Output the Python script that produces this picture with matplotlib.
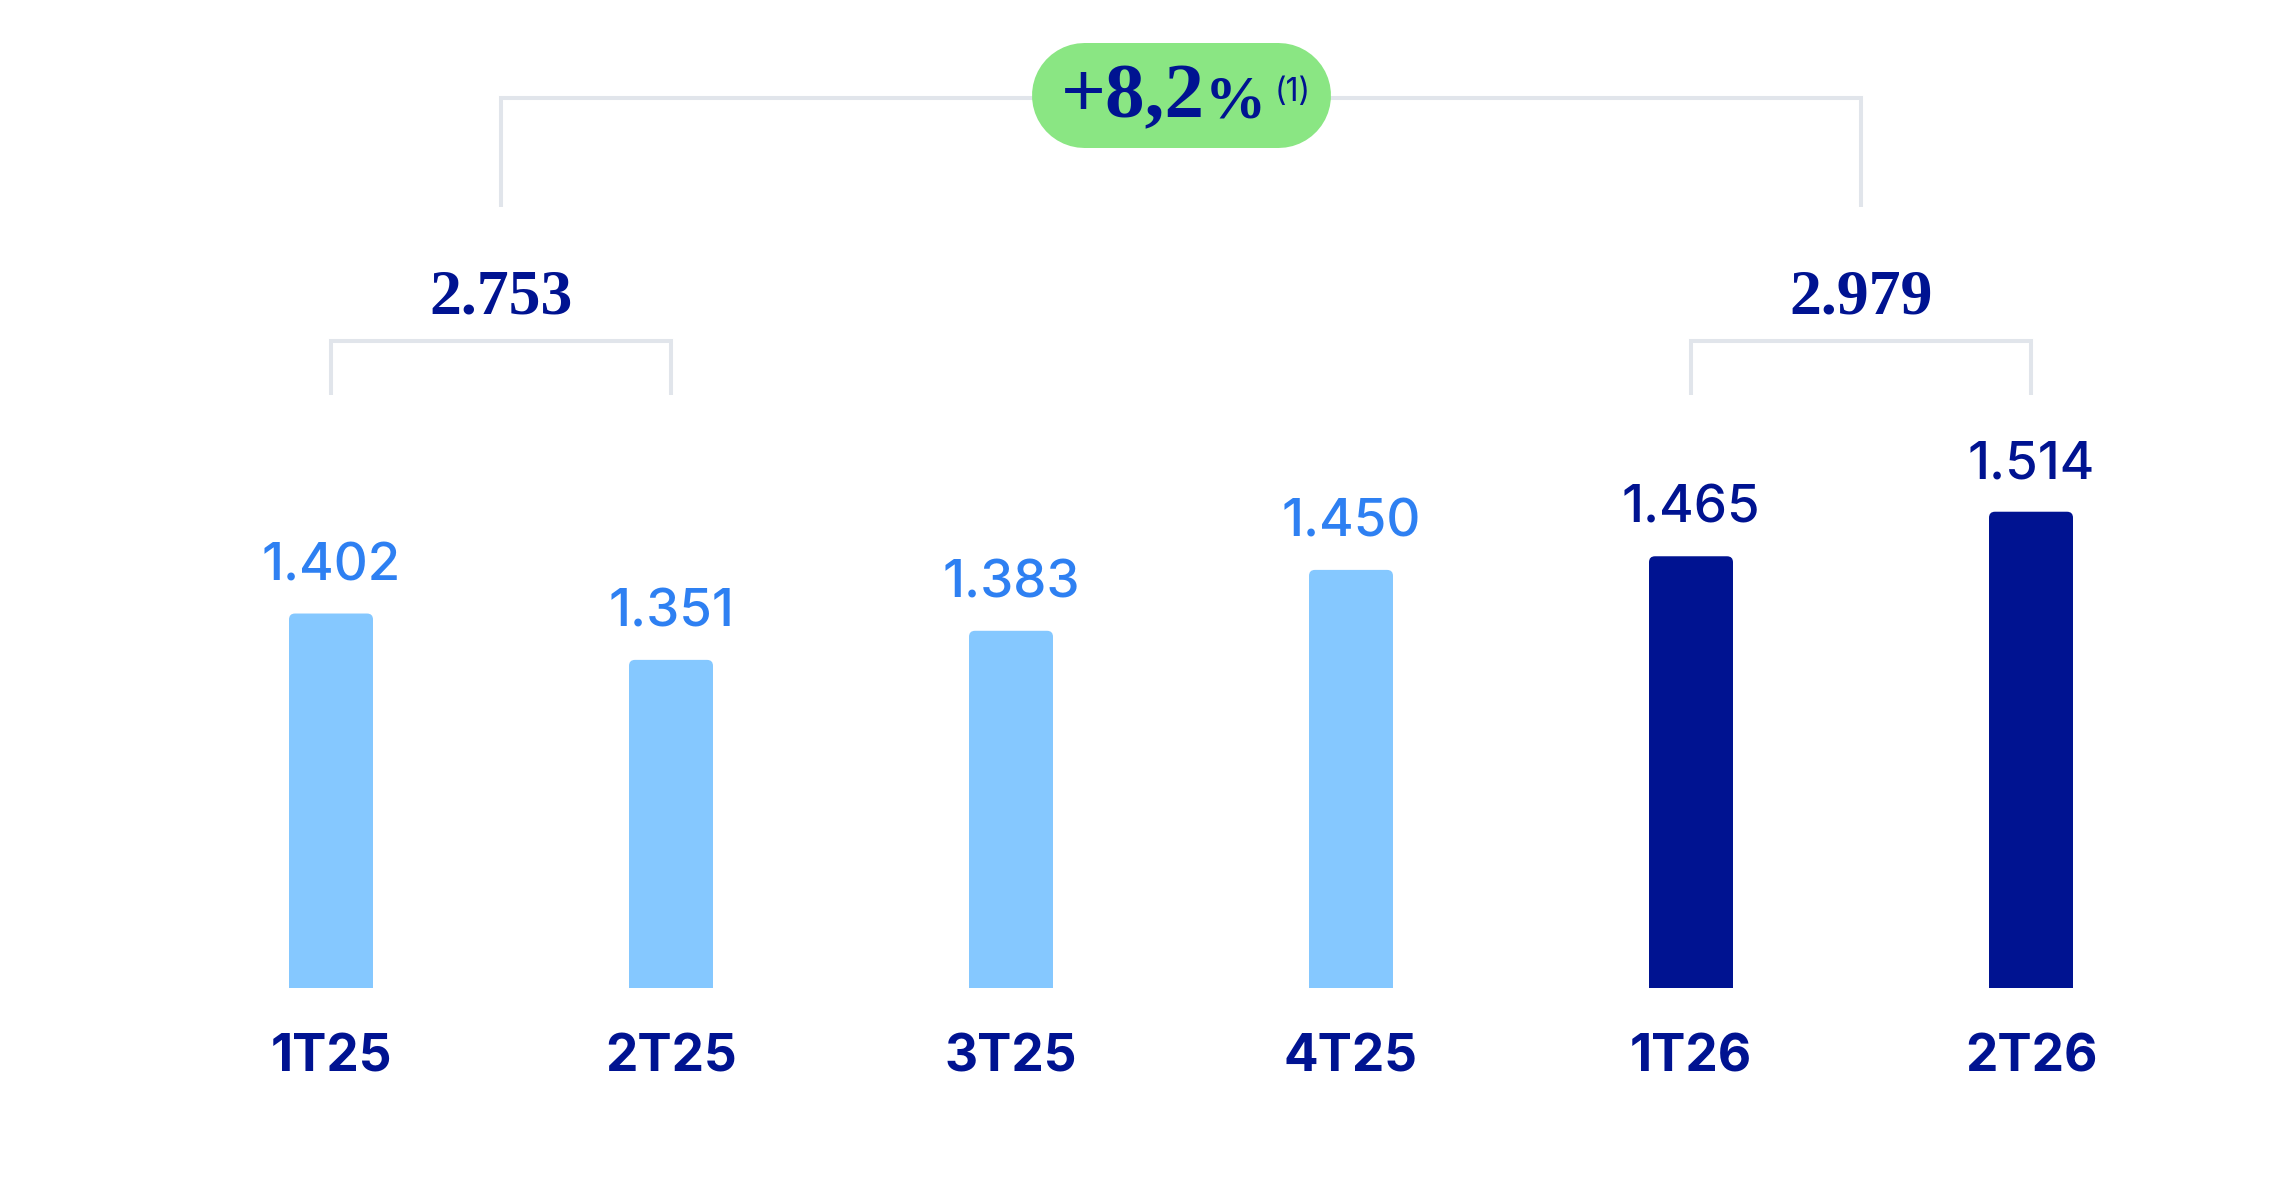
import matplotlib
matplotlib.use("Agg")
import matplotlib.pyplot as plt
from matplotlib.patches import FancyBboxPatch

# ---- data ----
quarters = ["1T25", "2T25", "3T25", "4T25", "1T26", "2T26"]
values = [1402, 1351, 1383, 1450, 1465, 1514]
is_current = [False, False, False, False, True, True]
groups = [(0, 1), (4, 5)]          # half-year groups (indices of quarters)
footnote = "(1)"

# ---- styles ----
NAVY = "#001391"
LIGHT_BAR = "#85C8FF"
LIGHT_LABEL = "#2E80F2"
GRAY = "#E1E5EB"
GREEN = "#8AE683"
SANS = ["Inter", "DejaVu Sans"]
SERIF = ["Liberation Serif", "DejaVu Serif"]

W, H, DPI = 22.92, 11.88, 100
fig = plt.figure(figsize=(W, H), dpi=DPI)
fig.patch.set_facecolor("white")

# axes: bottom at 988 px from top, top at figure top
ax_bottom_px = 988
ax = fig.add_axes([0, 1 - ax_bottom_px / 1188, 1, ax_bottom_px / 1188])
ax.set_facecolor("none")

x = list(range(len(quarters)))
ax.set_xlim(-331 / 340, (2292 - 331) / 340)
ax.set_ylim(990, 2077)

bar_w = 84 / 340
bars = ax.bar(x, values, width=bar_w,
              color=[NAVY if c else LIGHT_BAR for c in is_current])

# replace rectangles with top-rounded patches (bottom clipped by axes)
px_x = 1 / 340
px_y = (2077 - 990) / ax_bottom_px
for rect, cur in zip(bars.patches, is_current):
    rect.set_visible(False)
    p = FancyBboxPatch((rect.get_x(), rect.get_y()), rect.get_width(), rect.get_height(),
                       boxstyle=f"round,pad=0,rounding_size={6 * px_x}",
                       mutation_aspect=px_y / px_x,
                       facecolor=rect.get_facecolor(), edgecolor="none",
                       clip_on=True)
    ax.add_patch(p)

# value labels
fmt = lambda v: f"{v:,}".replace(",", ".")
for xi, v, cur in zip(x, values, is_current):
    ax.annotate(fmt(v), xy=(xi, v), xytext=(0, 24), textcoords="offset points",
                ha="center", va="baseline", fontsize=38, family=SANS,
                fontweight="medium",
                color=NAVY if cur else LIGHT_LABEL)

# axis styling
for s in ax.spines.values():
    s.set_visible(False)
ax.set_yticks([])
ax.set_xticks(x)
ax.set_xticklabels(quarters, fontsize=37, fontweight="bold", family=SANS, color=NAVY)
ax.tick_params(axis="x", length=0, pad=33)

# ---- brackets and totals ----
bt = ax.get_xaxis_transform()   # x data, y axes fraction
frac = lambda py: (ax_bottom_px - py) / ax_bottom_px
lw = 2.9

totals = []
centers = []
for a, b in groups:
    tot = values[a] + values[b]
    totals.append(tot)
    cx = (x[a] + x[b]) / 2
    centers.append(cx)
    ax.plot([x[a], x[a], x[b], x[b]], [frac(395), frac(341), frac(341), frac(395)],
            transform=bt, color=GRAY, lw=lw, solid_joinstyle="miter",
            solid_capstyle="butt", clip_on=False)
    ax.text(cx, frac(313), fmt(tot), transform=bt, ha="center", va="baseline",
            fontsize=46, fontweight="bold", family=SERIF, color=NAVY)

# top bracket between totals
ax.plot([centers[0], centers[0], centers[1], centers[1]],
        [frac(207), frac(98), frac(98), frac(207)],
        transform=bt, color=GRAY, lw=lw, solid_joinstyle="miter",
        solid_capstyle="butt", clip_on=False, zorder=1)

# badge (pill = thick line with round caps)
growth = (totals[1] / totals[0] - 1) * 100
bx = (centers[0] + centers[1]) / 2
pill_h = 105
half_len = (299 - pill_h) / 2 * px_x
ax.plot([bx - half_len, bx + half_len], [frac(94.5), frac(94.5)], transform=bt,
        color=GREEN, lw=pill_h * 72 / DPI, solid_capstyle="round",
        clip_on=False, zorder=2)

main = ax.annotate(f"+{growth:.1f}".replace(".", ","), xy=(bx, frac(117)), xycoords=bt,
                   xytext=(24 * 0.72, 0), textcoords="offset points",
                   ha="right", va="baseline", fontsize=57, fontweight="bold",
                   family=SERIF, color=NAVY, zorder=3)
pct = ax.annotate("%", xy=(1, frac(117)), xycoords=(main, ax.transAxes),
                  xytext=(0, 0), textcoords="offset points",
                  ha="left", va="baseline", fontsize=44, fontweight="bold",
                  family=SERIF, color=NAVY, zorder=3)
ax.annotate(footnote, xy=(1, frac(101)), xycoords=(pct, ax.transAxes),
            xytext=(6, 0), textcoords="offset points",
            ha="left", va="baseline", fontsize=23, family=SANS,
            color=NAVY, zorder=3)

fig.savefig("out.png", dpi=DPI, facecolor="white")
